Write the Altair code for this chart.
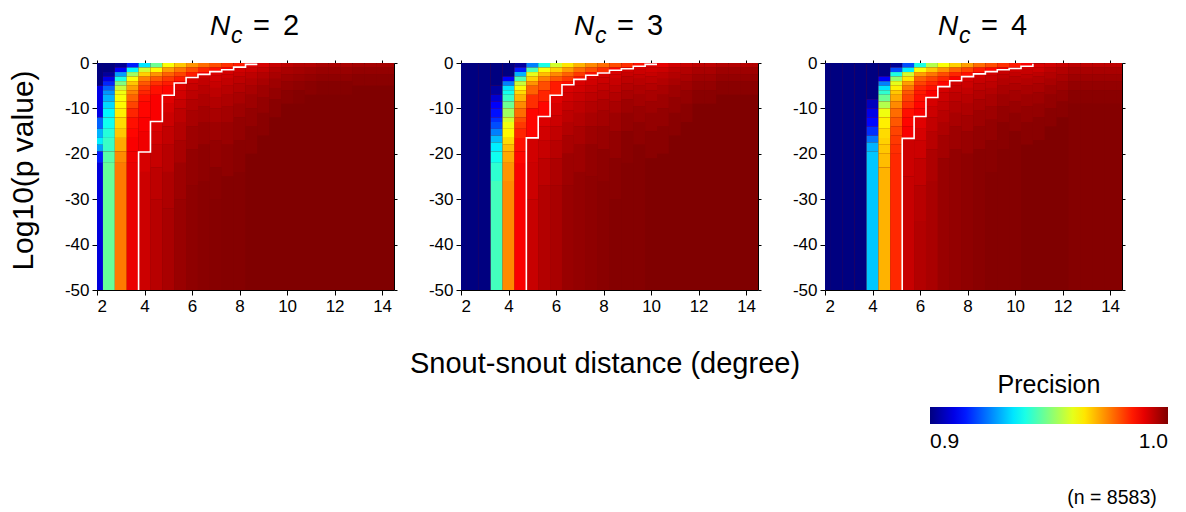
import altair as alt
import pandas as pd

# ---------------- data ----------------
X_CENTERS = [2.0, 2.5, 3.0, 3.5, 4.0, 4.5, 5.0, 5.5, 6.0, 6.5, 7.0, 7.5, 8.0,
             8.5, 9.0, 9.5, 10.0, 10.5, 11.0, 11.5, 12.0, 12.5, 13.0, 13.5, 14.0, 14.5]
X_TICKS = [2, 4, 6, 8, 10, 12, 14]
Y_TICKS = [0, -10, -20, -30, -40, -50]
X_DOMAIN = [2, 14.5]
Y_DOMAIN = [-50, 0]
HALF_BIN = 0.25

PANEL_NUMBERS = ["2", "3", "4"]

# each column: list of (log10 p where a band starts, precision of that band down to the next start / -50)
NC2_PROFILES = [
    [(0, .900), (-5, .910), (-12, .922), (-14.5, .930), (-16.5, .936), (-18, .928), (-19.5, .915), (-22, .909)],
    [(0, .900), (-2, .903), (-3, .910), (-4, .916), (-5, .922), (-6, .927), (-7, .930), (-8.5, .934), (-10, .937), (-12, .939), (-14.5, .941), (-16.5, .943), (-19.5, .946), (-22, .9475)],
    [(0, .902), (-1, .912), (-2, .928), (-3, .940), (-4, .950), (-5, .957), (-6, .961), (-7, .962), (-8.5, .963), (-10, .964), (-12, .966), (-14.5, .968), (-16.5, .971), (-19.5, .974), (-22, .9757)],
    [(0, .915), (-1, .937), (-2, .953), (-3, .962), (-4, .968), (-5, .972), (-6, .975), (-7, .978), (-8.5, .981), (-10, .984), (-12, .986), (-14.5, .987), (-16.5, .988), (-19.5, .989), (-22, .9895)],
    [(0, .935), (-1, .958), (-2, .967), (-3, .975), (-4, .979), (-5, .982), (-6, .984), (-7, .986), (-8.5, .987), (-12, .988), (-15, .989), (-19.6, .9915), (-24, .9925)],
    [(0, .948), (-1, .963), (-2, .973), (-3, .979), (-4, .983), (-5, .986), (-7, .988), (-12.9, .991), (-15, .992), (-18, .993), (-23, .994), (-30, .9945)],
    [(0, .962), (-1, .972), (-2, .978), (-3, .982), (-4, .985), (-5, .987), (-7.1, .9905), (-9, .9915), (-11, .9925), (-14, .9935), (-18, .9945), (-24, .9955), (-32, .996)],
    [(0, .968), (-1, .976), (-2, .981), (-3, .985), (-4, .988), (-4.4, .991), (-6, .992), (-8, .993), (-10, .994), (-13, .995), (-17, .996), (-22, .997), (-30, .9975)],
    [(0, .973), (-1, .980), (-2, .985), (-3, .988), (-3.2, .992), (-4.5, .993), (-6, .994), (-8, .995), (-10.5, .996), (-14, .997), (-19, .998), (-27, .9985)],
    [(0, .977), (-1, .984), (-2, .988), (-2.5, .9925), (-3.5, .9935), (-5, .9945), (-7, .9955), (-9.5, .9965), (-13, .9975), (-18, .9985), (-26, .999)],
    [(0, .980), (-1, .986), (-1.9, .991), (-2.8, .992), (-4, .993), (-5.5, .994), (-7.5, .995), (-10, .996), (-13, .997), (-17, .998), (-23, .999), (-30, .9993)],
    [(0, .983), (-1, .988), (-1.5, .9915), (-2.5, .9925), (-3.5, .9935), (-5, .9945), (-7, .9955), (-9.5, .9965), (-13, .9975), (-18, .9985), (-25, .9995)],
    [(0, .985), (-0.9, .992), (-2, .993), (-3, .994), (-4.5, .995), (-6.5, .996), (-9, .997), (-12, .998), (-17, .999), (-24, .9995)],
    [(0, .988), (-0.3, .9905), (-1, .9925), (-2, .994), (-3.5, .995), (-5, .996), (-7, .997), (-10, .998), (-14, .999), (-20, 1.0)],
    [(0, .9915), (-1, .9935), (-2, .995), (-3.5, .996), (-5, .997), (-7.5, .998), (-11, .999), (-16, 1.0)],
    [(0, .993), (-1, .995), (-2, .996), (-3.5, .997), (-5.5, .998), (-8, .999), (-12, 1.0)],
    [(0, .994), (-1, .996), (-2.5, .997), (-4, .998), (-6, .999), (-9, 1.0)],
    [(0, .995), (-1, .9965), (-2.5, .9975), (-4, .9985), (-6, .9995), (-9, 1.0)],
    [(0, .995), (-1, .997), (-2.5, .998), (-4, .999), (-7, 1.0)],
    [(0, .996), (-1, .9975), (-2.5, .9985), (-4, .9995), (-7, 1.0)],
    [(0, .996), (-1, .9975), (-2.5, .9985), (-4, .9995), (-7, 1.0)],
    [(0, .996), (-1, .9975), (-2.5, .9985), (-4, .9995), (-7, 1.0)],
    [(0, .9965), (-1, .998), (-2.5, .999), (-5, 1.0)],
    [(0, .9965), (-1, .998), (-2.5, .999), (-5, 1.0)],
    [(0, .9965), (-1, .998), (-2.5, .999), (-5, 1.0)],
    [(0, .9965), (-1, .998), (-2.5, .999), (-5, 1.0)],
]

NC3_PROFILES = [
    [(0, .900)],
    [(0, .900)],
    [(0, .900)],
    [(0, .900), (-5, .903), (-7, .908), (-8.5, .912), (-10, .914), (-12, .917), (-13, .920), (-14.5, .925), (-16, .931), (-17.5, .936), (-19.5, .939), (-22, .942), (-26, .944)],
    [(0, .900), (-3, .912), (-4, .925), (-5, .935), (-6, .939), (-7, .943), (-8.5, .948), (-10, .953), (-12, .958), (-13, .961), (-14.5, .963), (-16.5, .966), (-18, .969), (-19.5, .971), (-22, .973), (-26, .974)],
    [(0, .903), (-1, .915), (-2, .930), (-3, .945), (-4, .957), (-5, .962), (-6, .966), (-7, .970), (-8.5, .974), (-10, .977), (-12, .980), (-13, .982), (-14.5, .984), (-16.5, .986), (-19.5, .987), (-22, .988)],
    [(0, .925), (-1, .945), (-2, .960), (-3, .967), (-4, .973), (-5, .978), (-7, .983), (-10, .987), (-16.5, .992), (-22, .9925), (-30, .993)],
    [(0, .940), (-1, .962), (-2, .969), (-3, .975), (-4, .980), (-6, .984), (-8.5, .987), (-11.8, .991), (-14, .992), (-17, .993), (-21, .994), (-27, .995)],
    [(0, .958), (-1, .967), (-2, .974), (-3, .979), (-4, .985), (-7.1, .9905), (-9, .9915), (-11.5, .9925), (-14, .9935), (-17, .9945), (-21, .9955), (-27, .996)],
    [(0, .965), (-1, .972), (-2, .978), (-3, .982), (-4, .986), (-4.8, .991), (-6.5, .992), (-8.5, .993), (-10.5, .994), (-13, .995), (-16, .996), (-20, .997), (-27, .9975)],
    [(0, .970), (-1, .977), (-2, .982), (-3, .986), (-3.6, .991), (-5, .992), (-6.5, .993), (-8.5, .994), (-11, .995), (-14, .996), (-18, .997), (-24, .998)],
    [(0, .974), (-1, .980), (-2, .986), (-2.7, .991), (-3.7, .992), (-5, .993), (-6.5, .994), (-8.5, .995), (-11, .996), (-14, .997), (-18, .998), (-25, .9985)],
    [(0, .977), (-1, .983), (-2, .988), (-2.2, .9915), (-3.2, .9925), (-4.5, .9935), (-6, .9945), (-8, .9955), (-10.5, .9965), (-14, .9975), (-19, .9985), (-26, .999)],
    [(0, .980), (-1, .987), (-1.6, .991), (-2.5, .992), (-3.5, .993), (-5, .994), (-6.5, .995), (-8.5, .996), (-11, .997), (-15, .998), (-21, .999), (-30, .9995)],
    [(0, .983), (-1, .989), (-1.25, .992), (-2, .993), (-3, .994), (-4.5, .995), (-6, .996), (-8, .997), (-11, .998), (-15, .999), (-22, .9995)],
    [(0, .986), (-0.7, .9915), (-1.5, .9925), (-2.5, .9935), (-3.5, .9945), (-5, .9955), (-7, .9965), (-9.5, .9975), (-13, .9985), (-18, .9995)],
    [(0, .988), (-0.3, .991), (-1, .992), (-2, .993), (-3, .994), (-4.5, .995), (-6, .996), (-8.5, .997), (-11, .998), (-15, .999), (-21, 1.0)],
    [(0, .990), (-1, .9925), (-2, .994), (-3.5, .995), (-5, .996), (-7, .997), (-10, .998), (-14, .999), (-20, 1.0)],
    [(0, .992), (-1, .994), (-2, .995), (-3.5, .996), (-5, .997), (-7.5, .998), (-11, .999), (-16, 1.0)],
    [(0, .993), (-1, .995), (-2.5, .996), (-4, .997), (-6, .998), (-9, .999), (-13, 1.0)],
    [(0, .994), (-1, .996), (-2.5, .997), (-4, .998), (-6, .999), (-9, 1.0)],
    [(0, .994), (-1, .996), (-2.5, .997), (-4, .998), (-6, .999), (-9, 1.0)],
    [(0, .995), (-1, .997), (-2.5, .998), (-4, .999), (-7, 1.0)],
    [(0, .995), (-1, .997), (-2.5, .998), (-4, .999), (-7, 1.0)],
    [(0, .995), (-1, .997), (-2.5, .998), (-4, .999), (-7, 1.0)],
    [(0, .995), (-1, .997), (-2.5, .998), (-4, .999), (-7, 1.0)],
]

NC4_PROFILES = [
    [(0, .900)],
    [(0, .900)],
    [(0, .900)],
    [(0, .900)],
    [(0, .900), (-8, .906), (-10, .910), (-12, .913), (-14, .917), (-16, .924), (-17.5, .930), (-19.5, .932)],
    [(0, .900), (-3, .912), (-4, .925), (-5, .935), (-6, .942), (-7, .948), (-8.5, .955), (-10, .961), (-12, .964), (-14.5, .966), (-16.5, .967), (-18, .968), (-20, .969), (-23, .970)],
    [(0, .902), (-1, .920), (-2, .940), (-3, .952), (-4, .960), (-5, .964), (-6, .968), (-7, .971), (-8.5, .974), (-10, .977), (-12, .979), (-14, .981), (-16, .982), (-18, .983), (-20, .9836)],
    [(0, .920), (-1, .936), (-2, .958), (-3, .965), (-4, .972), (-5, .976), (-6, .979), (-7, .981), (-8.5, .983), (-10, .986), (-12, .987), (-14, .988), (-16.6, .9925), (-25, .993)],
    [(0, .940), (-1, .962), (-2, .972), (-3, .978), (-4, .981), (-5, .984), (-6, .985), (-7, .986), (-8.5, .987), (-10, .988), (-11.8, .9905), (-14.5, .9915), (-17, .9925), (-21, .9935), (-27, .9945), (-35, .995)],
    [(0, .955), (-1, .968), (-2, .976), (-3, .981), (-4, .984), (-5, .986), (-6, .988), (-7.6, .9915), (-9.5, .9925), (-12, .9935), (-15, .9945), (-19, .9955), (-26, .996)],
    [(0, .962), (-1, .973), (-2, .980), (-3, .984), (-4, .987), (-5.2, .9915), (-6.5, .9925), (-8.5, .9935), (-10.5, .9945), (-13, .9955), (-16, .9965), (-21, .9975)],
    [(0, .967), (-1, .978), (-2, .984), (-3, .988), (-3.9, .992), (-5, .993), (-6.5, .994), (-8.5, .995), (-11, .996), (-14, .997), (-19, .998)],
    [(0, .972), (-1, .981), (-2, .986), (-3, .9915), (-4, .9925), (-5.5, .9935), (-7, .9945), (-9, .9955), (-11.5, .9965), (-15, .9975), (-20, .9985)],
    [(0, .977), (-1, .985), (-2, .989), (-2.4, .992), (-3.5, .993), (-4.5, .994), (-6, .995), (-8, .996), (-10.5, .997), (-14, .998), (-19, .999)],
    [(0, .980), (-1, .987), (-1.9, .992), (-2.8, .993), (-4, .994), (-5.5, .995), (-7, .996), (-9.5, .997), (-12.5, .998), (-17, .999), (-24, .9995)],
    [(0, .983), (-1, .989), (-1.5, .993), (-2.5, .994), (-3.5, .995), (-5, .996), (-7, .997), (-9.5, .998), (-13, .999), (-19, .9995)],
    [(0, .985), (-1, .989), (-1.2, .9925), (-2, .9935), (-3, .9945), (-4.5, .9955), (-6, .9965), (-8.5, .9975), (-11, .9985), (-15, .9995)],
    [(0, .988), (-0.7, .992), (-1.5, .993), (-2.5, .994), (-3.5, .995), (-5, .996), (-7, .997), (-9.5, .998), (-13, .999), (-18, 1.0)],
    [(0, .989), (-0.15, .991), (-1, .9925), (-2, .994), (-3, .995), (-4.5, .996), (-6.5, .997), (-9, .998), (-12, .999), (-17, 1.0)],
    [(0, .992), (-1, .994), (-2, .995), (-3.5, .996), (-5, .997), (-7, .998), (-10, .999), (-14, 1.0)],
    [(0, .993), (-1, .995), (-2.5, .996), (-4, .997), (-6, .998), (-8.5, .999), (-12, 1.0)],
    [(0, .994), (-1, .996), (-2.5, .997), (-4, .998), (-6, .999), (-9, .9995)],
    [(0, .994), (-1, .996), (-2.5, .997), (-4, .998), (-6, .999), (-9, .9995)],
    [(0, .994), (-1, .996), (-2.5, .997), (-4, .998), (-6, .999), (-9, .9995)],
    [(0, .994), (-1, .996), (-2.5, .997), (-4, .998), (-6, .999), (-9, .9995)],
    [(0, .994), (-1, .996), (-2.5, .997), (-4, .998), (-6, .999), (-9, .9995)],
]

# white step contour (precision threshold boundary)
NC2_LINE_X = [3.75, 4.25, 4.75, 5.25, 5.75, 6.25, 6.75, 7.25, 7.75, 8.25, 8.75]
NC2_LINE_Y = [-50, -19.6, -12.9, -7.1, -4.4, -3.2, -2.5, -1.9, -1.5, -0.9, -0.3]
NC3_LINE_X = [4.75, 5.25, 5.75, 6.25, 6.75, 7.25, 7.75, 8.25, 8.75, 9.25, 9.75, 10.25]
NC3_LINE_Y = [-50, -16.5, -11.8, -7.1, -4.8, -3.6, -2.7, -2.2, -1.6, -1.25, -0.7, -0.3]
NC4_LINE_X = [5.25, 5.75, 6.25, 6.75, 7.25, 7.75, 8.25, 8.75, 9.25, 9.75, 10.25, 10.75, 10.75]
NC4_LINE_Y = [-50, -16.6, -11.8, -7.6, -5.2, -3.9, -3.0, -2.4, -1.9, -1.5, -1.2, -0.7, -0.15]

# jet colour map, evenly spaced over [0.9, 1.0]
JET_COLORS = ["#000080", "#0000ff", "#0080ff", "#00ffff", "#80ff80",
              "#ffff00", "#ff8000", "#ff0000", "#800000"]
COLOR_DOMAIN = [0.9, 1.0]
LEGEND_VALUES = [0.9, 1.0]

Y_TITLE = "Log10(p value)"
X_TITLE = "Snout-snout distance (degree)"
LEGEND_TITLE = "Precision"
N_NOTE = "(n = 8583)"
FONT = "Liberation Sans"

W, H = 297, 227


def cells(profiles):
    rows = []
    for c, prof in zip(X_CENTERS, profiles):
        for k, (ytop, v) in enumerate(prof):
            ybot = prof[k + 1][0] if k + 1 < len(prof) else Y_DOMAIN[0]
            rows.append(dict(x0=max(X_DOMAIN[0], c - HALF_BIN), x1=min(X_DOMAIN[1], c + HALF_BIN),
                             y0=ytop, y1=ybot, v=v))
    return pd.DataFrame(rows)


cscale = alt.Scale(domain=COLOR_DOMAIN, range=JET_COLORS, interpolate="rgb", clamp=True)
legend = alt.Legend(
    type="gradient", orient="none", legendX=833, legendY=310, direction="horizontal",
    gradientLength=238, gradientThickness=17, gradientStrokeWidth=0,
    title=LEGEND_TITLE, titleOrient="top", titleAnchor="middle", titleFontSize=25,
    titleFontWeight="normal", titleColor="black", titleFont=FONT, titlePadding=9,
    labelFontSize=21, labelColor="black", labelFont=FONT, labelOffset=7,
    values=LEGEND_VALUES, format=".1f",
)


def panel(num, profiles, lx, ly, first=False, middle=False, last=False):
    xs = alt.Scale(domain=X_DOMAIN, nice=False, zero=False)
    ys = alt.Scale(domain=Y_DOMAIN, nice=False, zero=False)
    yaxis_kw = dict(values=Y_TICKS, labelExpr="datum.value + ''", grid=False)
    if first:
        yaxis = alt.Axis(title=Y_TITLE, titleFontSize=30, titleFontWeight="normal",
                         titleColor="black", titleFont=FONT, titleX=-65, titleY=107,
                         titleAngle=270, titleAlign="center", titleBaseline="alphabetic",
                         **yaxis_kw)
    else:
        yaxis = alt.Axis(title=None, **yaxis_kw)

    heat = alt.Chart(cells(profiles)).mark_rect(strokeWidth=0).encode(
        x=alt.X("x0:Q", scale=xs, axis=alt.Axis(values=X_TICKS, title=None, grid=False)),
        x2="x1:Q",
        y=alt.Y("y0:Q", scale=ys, axis=yaxis),
        y2="y1:Q",
        color=alt.Color("v:Q", scale=cscale, legend=legend),
    )

    line_df = pd.DataFrame({"lx": lx, "ly": ly, "i": list(range(len(lx)))})
    line = alt.Chart(line_df).mark_line(color="white", strokeWidth=1.6,
                                        interpolate="step-before").encode(
        x=alt.X("lx:Q", scale=xs, axis=alt.Axis(orient="top", labels=False, values=X_TICKS,
                                                 title=None, tickSize=3, grid=False)),
        y=alt.Y("ly:Q", scale=ys, axis=alt.Axis(orient="right", labels=False, values=Y_TICKS,
                                                 title=None, tickSize=3, grid=False)),
        order="i:Q",
    )

    one = pd.DataFrame({"t": [0]})
    tN = alt.Chart(one).mark_text(fontSize=28, fontStyle="italic", align="left",
                                  baseline="alphabetic", font=FONT, color="black").encode(
        text=alt.value("N"), x=alt.value(113), y=alt.value(-28))
    tc = alt.Chart(one).mark_text(fontSize=23, fontStyle="italic", align="left",
                                  baseline="alphabetic", font=FONT, color="black").encode(
        text=alt.value("c"), x=alt.value(134), y=alt.value(-20))
    teq = alt.Chart(one).mark_text(fontSize=29, align="left", baseline="alphabetic",
                                   font=FONT, color="black").encode(
        text=alt.value("="), x=alt.value(156), y=alt.value(-28))
    tnum = alt.Chart(one).mark_text(fontSize=29, align="left", baseline="alphabetic",
                                    font=FONT, color="black").encode(
        text=alt.value(num), x=alt.value(186), y=alt.value(-28))

    layers = [heat, line, tN, tc, teq, tnum]
    if first:
        anchor = alt.Chart(one).mark_rule(opacity=0, strokeWidth=0).encode(
            x=alt.value(-97), x2=alt.value(-96), y=alt.value(-63), y2=alt.value(-62))
        layers.append(anchor)
    if middle:
        xt = alt.Chart(one).mark_text(fontSize=29, align="center", baseline="alphabetic",
                                      font=FONT, color="black").encode(
            text=alt.value(X_TITLE), x=alt.value(144), y=alt.value(310))
        layers.append(xt)
    if last:
        nt = alt.Chart(one).mark_text(fontSize=19.5, align="center", baseline="alphabetic",
                                      font=FONT, color="black").encode(
            text=alt.value(N_NOTE), x=alt.value(287), y=alt.value(441))
        layers.append(nt)

    return alt.layer(*layers).resolve_axis(x="independent", y="independent").properties(
        width=W, height=H)


p1 = panel(PANEL_NUMBERS[0], NC2_PROFILES, NC2_LINE_X, NC2_LINE_Y, first=True)
p2 = panel(PANEL_NUMBERS[1], NC3_PROFILES, NC3_LINE_X, NC3_LINE_Y, middle=True)
p3 = panel(PANEL_NUMBERS[2], NC4_PROFILES, NC4_LINE_X, NC4_LINE_Y, last=True)

chart = alt.hconcat(p1, p2, p3, spacing=67, bounds="flush").properties(
    padding=0
).configure(font=FONT).configure_view(stroke=None, fill="#800000").configure_axis(
    labelFontSize=17, labelColor="black", labelFont=FONT, tickColor="black",
    domainColor="black", tickSize=5, labelPadding=3, grid=False,
)

chart.save("out.html", embed_options={"renderer": "svg", "actions": False})
